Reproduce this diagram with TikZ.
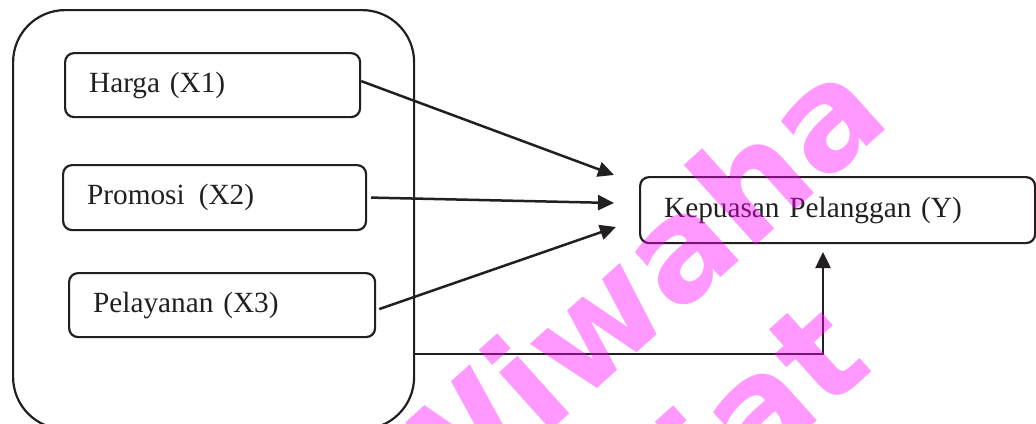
\documentclass[tikz,border=0pt]{standalone}
\usepackage{fontspec}
\setmainfont{Liberation Serif}
\newfontfamily\wmfont{DejaVu Sans}
\usetikzlibrary{arrows.meta,calc}
\definecolor{ink}{HTML}{231F20}
\definecolor{wmmag}{RGB}{255,0,255}
\begin{document}
\begin{tikzpicture}[x=1pt,y=-1pt,
  box/.style={draw=ink, line width=2.2pt, rounded corners=9pt, anchor=north west,
    inner xsep=24pt, inner ysep=0pt, align=left, text=ink,
    font=\fontsize{29.3}{35}\selectfont},
  link/.style={draw=ink, line width=2.5pt, -{Triangle[length=16pt,width=15pt]}},
  wm/.style={text=wmmag, opacity=0.4, font=\wmfont\bfseries\fontsize{142}{142}\selectfont,
    inner sep=0pt}]
\useasboundingbox (0,0) rectangle (1036,423);
\clip (0,0) rectangle (1036,423);

% grouping frame around the three factors
\node[draw=ink, line width=2.2pt, rounded corners=52pt, anchor=north west,
  minimum width=401pt, minimum height=419pt, inner sep=0pt] (group) at (12,9) {};

% independent variables
\node[box, text width=247pt, minimum height=64pt] (harga) at (64,52) {Harga (X1)};
\node[box, text width=255pt, minimum height=65pt] (promosi) at (62,164) {Promosi\hspace{14pt}(X2)};
\node[box, text width=258pt, minimum height=64pt] (pelayanan) at (68,272) {Pelayanan (X3)};

% dependent variable
\node[box, text width=347pt, minimum height=66pt] (kepuasan) at (639,176) {Kepuasan Pelanggan (Y)};

% arrow end points
\coordinate (t1) at (614,175);
\coordinate (t2) at (614,203);
\coordinate (t3) at (616,227);
\coordinate (bend) at (823,354);
\coordinate (t4) at (823,252);

\draw[link] ([yshift=4pt]harga.east) -- (t1);
\draw[link] ([xshift=4pt]promosi.east) -- (t2);
\draw[link] ([xshift=3pt,yshift=-4pt]pelayanan.east) -- (t3);
\draw[link] (group.east |- bend) -- (bend) -- (t4);

% watermark
\node[wm, rotate=42, anchor=base east] (wm1) at (894,122) {Wiwaha};
\node[wm, rotate=42, anchor=base east] (wm2) at (876,368) {iat};
\end{tikzpicture}
\end{document}
